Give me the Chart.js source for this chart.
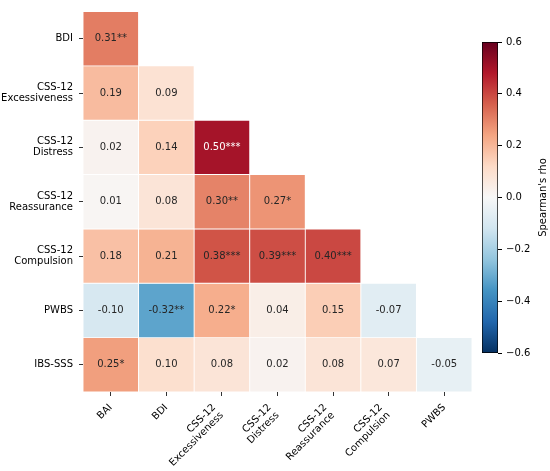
<!DOCTYPE html>
<html>
<head>
<meta charset="utf-8">
<script src="https://cdn.jsdelivr.net/npm/chart.js@4.4.1/dist/chart.umd.min.js"></script>
<style>
  html, body { margin: 0; padding: 0; background: #fff; }
  #wrap { position: relative; width: 550px; height: 471px; }
  #heatmap { position: absolute; left: 0; top: 0; }
  #colorbar { position: absolute; left: 470px; top: 0; }
</style>
</head>
<body>
<div id="wrap">
  <canvas id="heatmap" width="550" height="471"></canvas>
  <canvas id="colorbar" width="80" height="471"></canvas>
</div>
<script>
// columns (x) and rows (y) of the lower-triangle matrix
const columnLabels = [['BAI'], ['BDI'], ['CSS-12', 'Excessiveness'], ['CSS-12', 'Distress'],
  ['CSS-12', 'Reassurance'], ['CSS-12', 'Compulsion'], ['PWBS']];
const rowLabels = [['BDI'], ['CSS-12', 'Excessiveness'], ['CSS-12', 'Distress'],
  ['CSS-12', 'Reassurance'], ['CSS-12', 'Compulsion'], ['PWBS'], ['IBS-SSS']];

// Spearman's rho, one array per row
const rhoBDI = [0.31];
const rhoExcessiveness = [0.19, 0.09];
const rhoDistress = [0.02, 0.14, 0.50];
const rhoReassurance = [0.01, 0.08, 0.30, 0.27];
const rhoCompulsion = [0.18, 0.21, 0.38, 0.39, 0.40];
const rhoPWBS = [-0.10, -0.32, 0.22, 0.04, 0.15, -0.07];
const rhoIBS = [0.25, 0.10, 0.08, 0.02, 0.08, 0.07, -0.05];

// significance stars, same layout
const starsBDI = ['**'];
const starsExcessiveness = ['', ''];
const starsDistress = ['', '', '***'];
const starsReassurance = ['', '', '**', '*'];
const starsCompulsion = ['', '', '***', '***', '***'];
const starsPWBS = ['', '**', '*', '', '', ''];
const starsIBS = ['*', '', '', '', '', '', ''];

const colorTicks = [-0.6, -0.4, -0.2, 0, 0.2, 0.4, 0.6];

const rhoRows = [rhoBDI, rhoExcessiveness, rhoDistress, rhoReassurance, rhoCompulsion, rhoPWBS, rhoIBS];
const starRows = [starsBDI, starsExcessiveness, starsDistress, starsReassurance, starsCompulsion, starsPWBS, starsIBS];

// RdBu_r colormap
const cmapStops = ['#053061', '#2166ac', '#4393c3', '#92c5de', '#d1e5f0', '#f7f7f7',
  '#fddbc7', '#f4a582', '#d6604d', '#b2182b', '#67001f'];
const vmin = -0.6, vmax = 0.6;

function hexToRgb(h) {
  return [parseInt(h.slice(1, 3), 16), parseInt(h.slice(3, 5), 16), parseInt(h.slice(5, 7), 16)];
}

function colorFor(v) {
  let t = (v - vmin) / (vmax - vmin);
  t = Math.max(0, Math.min(1, t)) * (cmapStops.length - 1);
  const i = Math.min(Math.floor(t), cmapStops.length - 2);
  const f = t - i;
  const a = hexToRgb(cmapStops[i]), b = hexToRgb(cmapStops[i + 1]);
  const c = a.map((x, k) => Math.round(x + (b[k] - x) * f));
  return 'rgb(' + c.join(',') + ')';
}

const FONT = '"DejaVu Sans", sans-serif';
const LINE_H = 11;

const datasets = rowLabels.map((_, i) => ({
  data: columnLabels.map((_, j) => (j <= i ? [i, i + 1] : null)),
  backgroundColor: columnLabels.map((_, j) => (j <= i ? colorFor(rhoRows[i][j]) : 'rgba(0,0,0,0)')),
  borderColor: '#fff',
  borderWidth: 0.8,
  borderSkipped: false,
  barPercentage: 1,
  categoryPercentage: 1,
  grouped: false
}));

const cellText = {
  id: 'cellText',
  afterDatasetsDraw(chart) {
    const ctx = chart.ctx;
    ctx.save();
    ctx.font = '10px ' + FONT;
    ctx.textAlign = 'center';
    ctx.textBaseline = 'middle';
    chart.data.datasets.forEach((ds, i) => {
      chart.getDatasetMeta(i).data.forEach((bar, j) => {
        if (j > i) return;
        const v = rhoRows[i][j];
        const p = bar.getCenterPoint();
        ctx.fillStyle = Math.abs(v) >= 0.45 ? '#fff' : '#262626';
        ctx.fillText(v.toFixed(2) + starRows[i][j], p.x, p.y);
      });
    });
    ctx.restore();
  }
};

// rotated x labels, right-aligned like matplotlib (rotation=45, ha='right')
const xLabels = {
  id: 'xLabels',
  afterDraw(chart) {
    const scale = chart.scales.x;
    const ctx = chart.ctx;
    const k = Math.SQRT1_2;
    ctx.save();
    ctx.font = '10px ' + FONT;
    ctx.fillStyle = '#000';
    ctx.textAlign = 'right';
    ctx.textBaseline = 'middle';
    columnLabels.forEach((lines, i) => {
      const ax = scale.getPixelForTick(i);
      const n = lines.length;
      ctx.save();
      ctx.translate(ax - (n - 1) * LINE_H * k, chart.chartArea.bottom + 14);
      ctx.rotate(-Math.PI / 4);
      lines.forEach((t, j) => ctx.fillText(t, 0, j * LINE_H));
      ctx.restore();
    });
    ctx.restore();
  }
};

new Chart(document.getElementById('heatmap'), {
  type: 'bar',
  data: { labels: columnLabels, datasets: datasets },
  plugins: [cellText, xLabels],
  options: {
    responsive: false,
    animation: false,
    layout: { padding: { top: 4, right: 78, left: 0, bottom: 0 } },
    plugins: { legend: { display: false }, tooltip: { enabled: false } },
    scales: {
      x: {
        type: 'category',
        offset: true,
        grid: { offset: false, drawOnChartArea: false, tickLength: 4, color: '#333' },
        border: { display: false },
        ticks: { display: false, autoSkip: false },
        afterFit: s => { s.height = 79; }
      },
      y: {
        type: 'linear',
        min: 0,
        max: rowLabels.length,
        reverse: true,
        afterBuildTicks: s => { s.ticks = rowLabels.map((_, i) => ({ value: i + 0.5 })); },
        grid: { drawOnChartArea: false, tickLength: 4, color: '#333' },
        border: { display: false },
        ticks: { autoSkip: false, padding: 6, color: '#000',
          font: { family: FONT, size: 10, lineHeight: LINE_H / 10 },
          callback: (v, idx) => rowLabels[idx] },
        afterFit: s => { s.width = 83; }
      }
    }
  }
});

const cbTitle = {
  id: 'cbTitle',
  afterDraw(chart) {
    const ctx = chart.ctx;
    const area = chart.chartArea;
    ctx.save();
    ctx.translate(chart.width - 7, (area.top + area.bottom) / 2);
    ctx.rotate(-Math.PI / 2);
    ctx.font = '10px ' + FONT;
    ctx.fillStyle = '#000';
    ctx.textAlign = 'center';
    ctx.textBaseline = 'middle';
    ctx.fillText("Spearman's rho", 0, 0);
    ctx.restore();
  }
};

new Chart(document.getElementById('colorbar'), {
  type: 'bar',
  data: {
    labels: ['rho'],
    datasets: [{
      data: [[vmin, vmax]],
      backgroundColor: (context) => {
        const chart = context.chart;
        if (!chart.chartArea) return null;
        const y = chart.scales.y;
        const g = chart.ctx.createLinearGradient(0, y.getPixelForValue(vmin), 0, y.getPixelForValue(vmax));
        cmapStops.forEach((c, k) => g.addColorStop(k / (cmapStops.length - 1), c));
        return g;
      },
      borderColor: '#000',
      borderWidth: 1,
      borderSkipped: false,
      barPercentage: 1,
      categoryPercentage: 1
    }]
  },
  plugins: [cbTitle],
  options: {
    responsive: false,
    animation: false,
    layout: { padding: { left: 12, top: 42, bottom: 118, right: 0 } },
    plugins: { legend: { display: false }, tooltip: { enabled: false } },
    scales: {
      x: { display: false },
      y: {
        position: 'right',
        min: vmin,
        max: vmax,
        afterBuildTicks: s => { s.ticks = colorTicks.map(v => ({ value: v })); },
        grid: { drawOnChartArea: false, tickLength: 4, color: '#000' },
        border: { display: false },
        ticks: { padding: 4, color: '#000', font: { family: FONT, size: 10 },
          callback: v => (v < 0 ? '\u2212' : '') + Math.abs(v).toFixed(1) },
        afterFit: s => { s.width = 52; }
      }
    }
  }
});
</script>
</body>
</html>
